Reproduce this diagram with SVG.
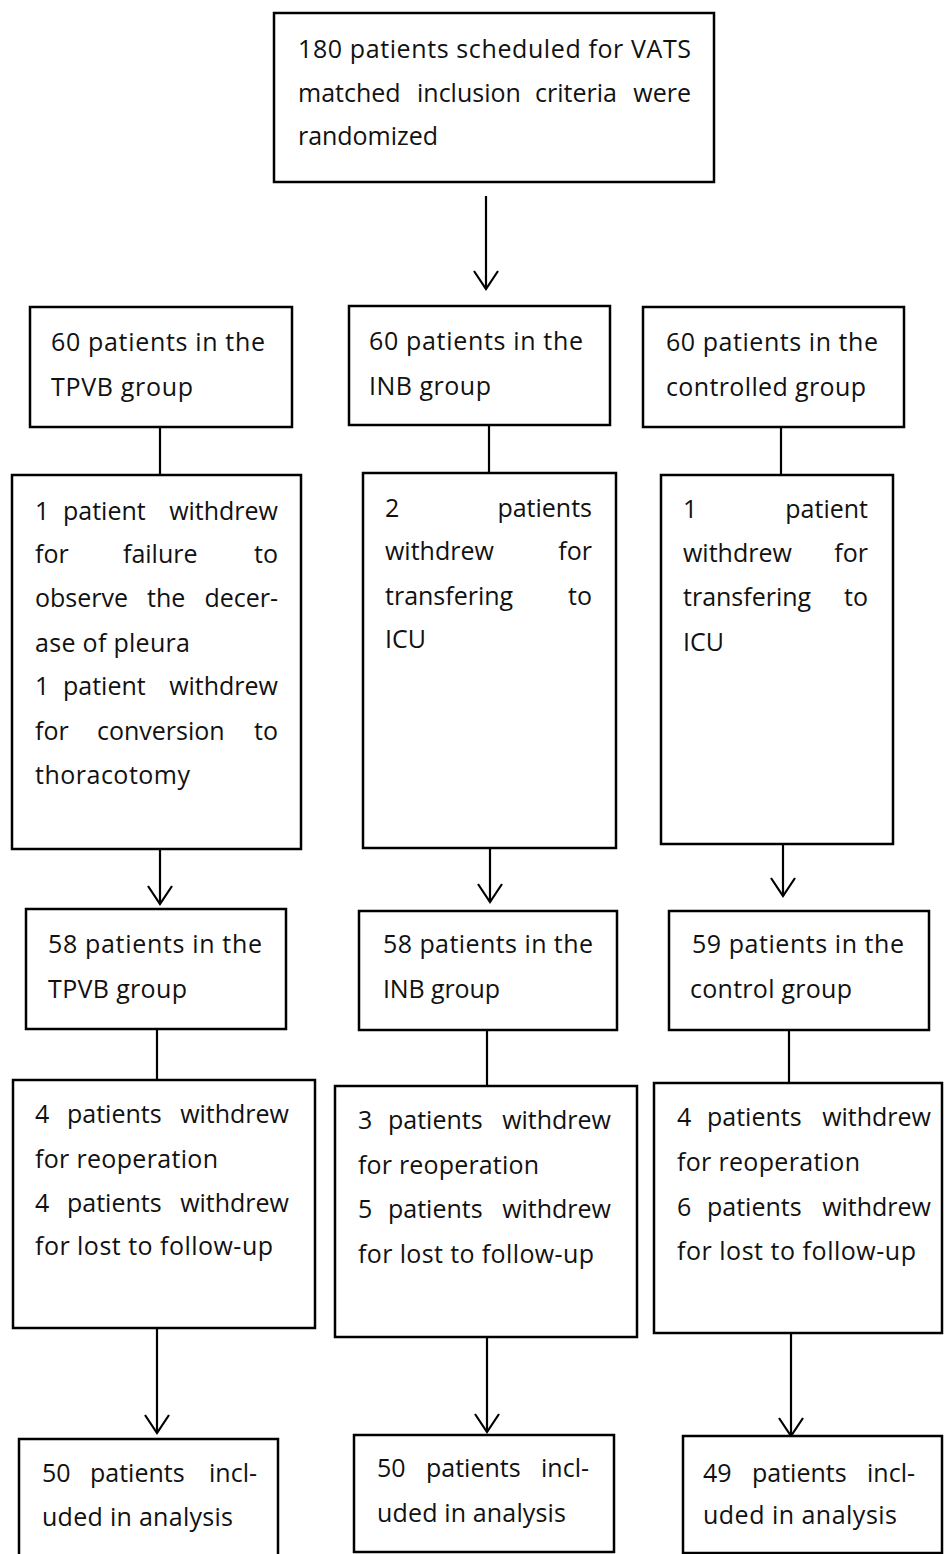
<svg xmlns="http://www.w3.org/2000/svg" width="945" height="1554" viewBox="0 0 945 1554">
<defs>
<style>
.box{fill:#fff;stroke:#000;stroke-width:2.5}
.t{font-family:"Open Sans","Noto Sans","Liberation Sans",sans-serif;font-size:25px;fill:#111}
.c{fill:none;stroke:#000;stroke-width:2.2}
.e{text-anchor:end}
</style>
<marker id="ah" viewBox="-20 -14 22 28" refX="0" refY="0" markerWidth="22" markerHeight="28" markerUnits="userSpaceOnUse" orient="auto" overflow="visible">
<path d="M-18,-12 L0,0 L-18,12" fill="none" stroke="#000" stroke-width="2.2"/>
</marker>
</defs>
<rect width="945" height="1554" fill="#fff"/>

<g id="connectors">
<line class="c" x1="486" y1="196" x2="486" y2="289" marker-end="url(#ah)"/>
<line class="c" x1="160" y1="427" x2="160" y2="475"/>
<line class="c" x1="489" y1="425" x2="489" y2="473"/>
<line class="c" x1="781" y1="427" x2="781" y2="475"/>
<line class="c" x1="160" y1="850" x2="160" y2="904" marker-end="url(#ah)"/>
<line class="c" x1="490" y1="848" x2="490" y2="902" marker-end="url(#ah)"/>
<line class="c" x1="783" y1="844" x2="783" y2="896" marker-end="url(#ah)"/>
<line class="c" x1="157" y1="1029" x2="157" y2="1080"/>
<line class="c" x1="487" y1="1030" x2="487" y2="1086"/>
<line class="c" x1="789" y1="1030" x2="789" y2="1083"/>
<line class="c" x1="157" y1="1328" x2="157" y2="1433" marker-end="url(#ah)"/>
<line class="c" x1="487" y1="1337" x2="487" y2="1432" marker-end="url(#ah)"/>
<line class="c" x1="791" y1="1333" x2="791" y2="1436" marker-end="url(#ah)"/>
</g>

<g id="n_top">
<rect class="box" x="274" y="13" width="440" height="169"/>
<text class="t" x="298" y="58" textLength="393">180 patients scheduled for VATS</text>
<text class="t" y="102"><tspan x="298">matched</tspan><tspan x="417">inclusion</tspan><tspan x="535">criteria</tspan><tspan class="e" x="691">were</tspan></text>
<text class="t" x="298" y="145" textLength="140">randomized</text>
</g>

<g id="n_tpvb60">
<rect class="box" x="30" y="307" width="262" height="120"/>
<text class="t" x="51" y="351" textLength="214">60 patients in the</text>
<text class="t" x="51" y="396" textLength="142">TPVB group</text>
</g>
<g id="n_inb60">
<rect class="box" x="349" y="306" width="261" height="119"/>
<text class="t" x="369" y="350" textLength="214">60 patients in the</text>
<text class="t" x="369" y="395" textLength="122">INB group</text>
</g>
<g id="n_ctrl60">
<rect class="box" x="643" y="307" width="261" height="120"/>
<text class="t" x="666" y="351" textLength="212">60 patients in the</text>
<text class="t" x="666" y="396" textLength="200">controlled group</text>
</g>

<g id="n_tpvb_wd1">
<rect class="box" x="12" y="475" width="289" height="374"/>
<text class="t" y="520"><tspan x="35">1</tspan><tspan x="63">patient</tspan><tspan class="e" x="278">withdrew</tspan></text>
<text class="t" y="563"><tspan x="35">for</tspan><tspan x="123">failure</tspan><tspan class="e" x="278">to</tspan></text>
<text class="t" y="607"><tspan x="35">observe</tspan><tspan x="147">the</tspan><tspan class="e" x="278">decer-</tspan></text>
<text class="t" x="35" y="652" textLength="155">ase of pleura</text>
<text class="t" y="695"><tspan x="35">1</tspan><tspan x="63">patient</tspan><tspan class="e" x="278">withdrew</tspan></text>
<text class="t" y="740"><tspan x="35">for</tspan><tspan x="97">conversion</tspan><tspan class="e" x="278">to</tspan></text>
<text class="t" x="35" y="784" textLength="155">thoracotomy</text>
</g>
<g id="n_inb_wd1">
<rect class="box" x="363" y="473" width="253" height="375"/>
<text class="t" y="517"><tspan x="385">2</tspan><tspan class="e" x="592">patients</tspan></text>
<text class="t" y="560"><tspan x="385">withdrew</tspan><tspan class="e" x="592">for</tspan></text>
<text class="t" y="605"><tspan x="385">transfering</tspan><tspan class="e" x="592">to</tspan></text>
<text class="t" x="385" y="648">ICU</text>
</g>
<g id="n_ctrl_wd1">
<rect class="box" x="661" y="475" width="232" height="369"/>
<text class="t" y="518"><tspan x="683">1</tspan><tspan class="e" x="868">patient</tspan></text>
<text class="t" y="562"><tspan x="683">withdrew</tspan><tspan class="e" x="868">for</tspan></text>
<text class="t" y="606"><tspan x="683">transfering</tspan><tspan class="e" x="868">to</tspan></text>
<text class="t" x="683" y="651">ICU</text>
</g>

<g id="n_tpvb58">
<rect class="box" x="26" y="909" width="260" height="120"/>
<text class="t" x="48" y="953" textLength="214">58 patients in the</text>
<text class="t" x="48" y="998" textLength="139">TPVB group</text>
</g>
<g id="n_inb58">
<rect class="box" x="359" y="911" width="258" height="119"/>
<text class="t" x="383" y="953" textLength="210">58 patients in the</text>
<text class="t" x="383" y="998" textLength="117">INB group</text>
</g>
<g id="n_ctrl59">
<rect class="box" x="669" y="911" width="260" height="119"/>
<text class="t" x="692" y="953" textLength="212">59 patients in the</text>
<text class="t" x="690" y="998" textLength="162">control group</text>
</g>

<g id="n_tpvb_wd2">
<rect class="box" x="13" y="1080" width="302" height="248"/>
<text class="t" y="1123"><tspan x="35">4</tspan><tspan x="67">patients</tspan><tspan class="e" x="289">withdrew</tspan></text>
<text class="t" x="35" y="1168" textLength="183">for reoperation</text>
<text class="t" y="1212"><tspan x="35">4</tspan><tspan x="67">patients</tspan><tspan class="e" x="289">withdrew</tspan></text>
<text class="t" x="35" y="1255" textLength="238">for lost to follow-up</text>
</g>
<g id="n_inb_wd2">
<rect class="box" x="335" y="1086" width="302" height="251"/>
<text class="t" y="1129"><tspan x="358">3</tspan><tspan x="388">patients</tspan><tspan class="e" x="611">withdrew</tspan></text>
<text class="t" x="358" y="1174" textLength="181">for reoperation</text>
<text class="t" y="1218"><tspan x="358">5</tspan><tspan x="388">patients</tspan><tspan class="e" x="611">withdrew</tspan></text>
<text class="t" x="358" y="1263" textLength="236">for lost to follow-up</text>
</g>
<g id="n_ctrl_wd2">
<rect class="box" x="654" y="1083" width="288" height="250"/>
<text class="t" y="1126"><tspan x="677">4</tspan><tspan x="707">patients</tspan><tspan class="e" x="931">withdrew</tspan></text>
<text class="t" x="677" y="1171" textLength="183">for reoperation</text>
<text class="t" y="1216"><tspan x="677">6</tspan><tspan x="707">patients</tspan><tspan class="e" x="931">withdrew</tspan></text>
<text class="t" x="677" y="1260" textLength="239">for lost to follow-up</text>
</g>

<g id="n_tpvb50">
<path class="box" d="M19,1560 V1439 H278 V1560"/>
<text class="t" y="1482"><tspan x="42">50</tspan><tspan x="90">patients</tspan><tspan class="e" x="257">incl-</tspan></text>
<text class="t" x="42" y="1526" textLength="191">uded in analysis</text>
</g>
<g id="n_inb50">
<rect class="box" x="354" y="1435" width="260" height="117"/>
<text class="t" y="1477"><tspan x="377">50</tspan><tspan x="426">patients</tspan><tspan class="e" x="589">incl-</tspan></text>
<text class="t" x="377" y="1522" textLength="189">uded in analysis</text>
</g>
<g id="n_ctrl49">
<rect class="box" x="683" y="1436" width="259" height="117"/>
<text class="t" y="1482"><tspan x="703">49</tspan><tspan x="752">patients</tspan><tspan class="e" x="915">incl-</tspan></text>
<text class="t" x="703" y="1524" textLength="194">uded in analysis</text>
</g>
</svg>
